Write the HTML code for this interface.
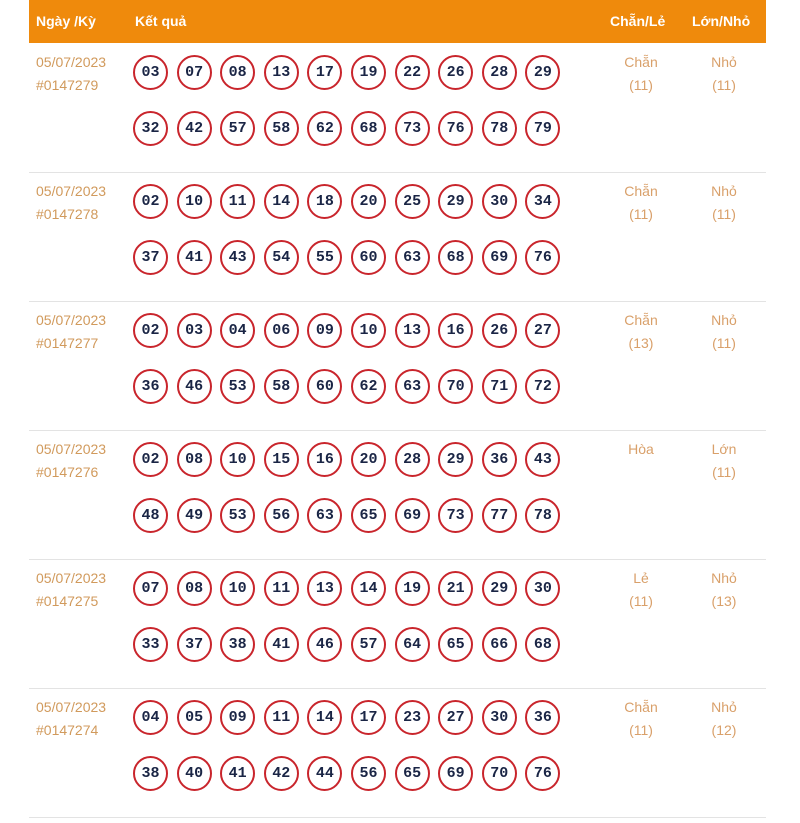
<!DOCTYPE html>
<html><head><meta charset="utf-8"><style>
body{margin:0;width:800px;height:823px;background:#fff;position:relative;overflow:hidden;font-family:"Liberation Sans","DejaVu Sans",sans-serif}
.hdr{position:absolute;left:29px;top:0;width:737px;height:43px;background:#ef8a0c}
.h{position:absolute;top:13px;color:#fff;font-weight:bold;font-size:14px}
.ball{position:absolute;width:31px;height:31px;border:2px solid #c9252c;border-radius:50%;box-sizing:content-box;text-align:center;line-height:31px;font-family:"Liberation Mono","DejaVu Sans Mono",monospace;font-weight:bold;font-size:15px;color:#1a2545}
.t{position:absolute;color:#d19a5c;font-size:14px;line-height:23px}
.c{position:absolute;color:#d9a06a;font-size:14px;line-height:23px;text-align:center;width:80px}
.sep{position:absolute;left:29px;width:737px;height:1px;background:#e3e3e3}
</style></head><body>
<div class="hdr">
<div class="h" style="left:7px">Ngày /Kỳ</div>
<div class="h" style="left:106px">Kết quả</div>
<div class="h" style="left:581px">Chẵn/Lẻ</div>
<div class="h" style="left:663px">Lớn/Nhỏ</div>
</div>
<div id="rows"></div>
<script>
const draws=[
["#0147279","03 07 08 13 17 19 22 26 28 29 32 42 57 58 62 68 73 76 78 79","Chẵn","(11)","Nhỏ","(11)"],
["#0147278","02 10 11 14 18 20 25 29 30 34 37 41 43 54 55 60 63 68 69 76","Chẵn","(11)","Nhỏ","(11)"],
["#0147277","02 03 04 06 09 10 13 16 26 27 36 46 53 58 60 62 63 70 71 72","Chẵn","(13)","Nhỏ","(11)"],
["#0147276","02 08 10 15 16 20 28 29 36 43 48 49 53 56 63 65 69 73 77 78","Hòa","","Lớn","(11)"],
["#0147275","07 08 10 11 13 14 19 21 29 30 33 37 38 41 46 57 64 65 66 68","Lẻ","(11)","Nhỏ","(13)"],
["#0147274","04 05 09 11 14 17 23 27 30 36 38 40 41 42 44 56 65 69 70 76","Chẵn","(11)","Nhỏ","(12)"]];
const R=document.getElementById('rows');
draws.forEach((d,i)=>{
const top=43+i*129;
let h='<div class="t" style="left:36px;top:'+(top+8)+'px">05/07/2023<br>'+d[0]+'</div>';
d[1].split(' ').forEach((n,j)=>{
const x=133+(j%10)*43.6, y=top+12+Math.floor(j/10)*56;
h+='<div class="ball" style="left:'+x+'px;top:'+y+'px">'+n+'</div>';});
h+='<div class="c" style="left:601px;top:'+(top+8)+'px">'+d[2]+'<br>'+d[3]+'</div>';
h+='<div class="c" style="left:684px;top:'+(top+8)+'px">'+d[4]+'<br>'+d[5]+'</div>';
h+='<div class="sep" style="top:'+(top+129)+'px"></div>';
R.insertAdjacentHTML('beforeend',h);});
</script>
</body></html>
